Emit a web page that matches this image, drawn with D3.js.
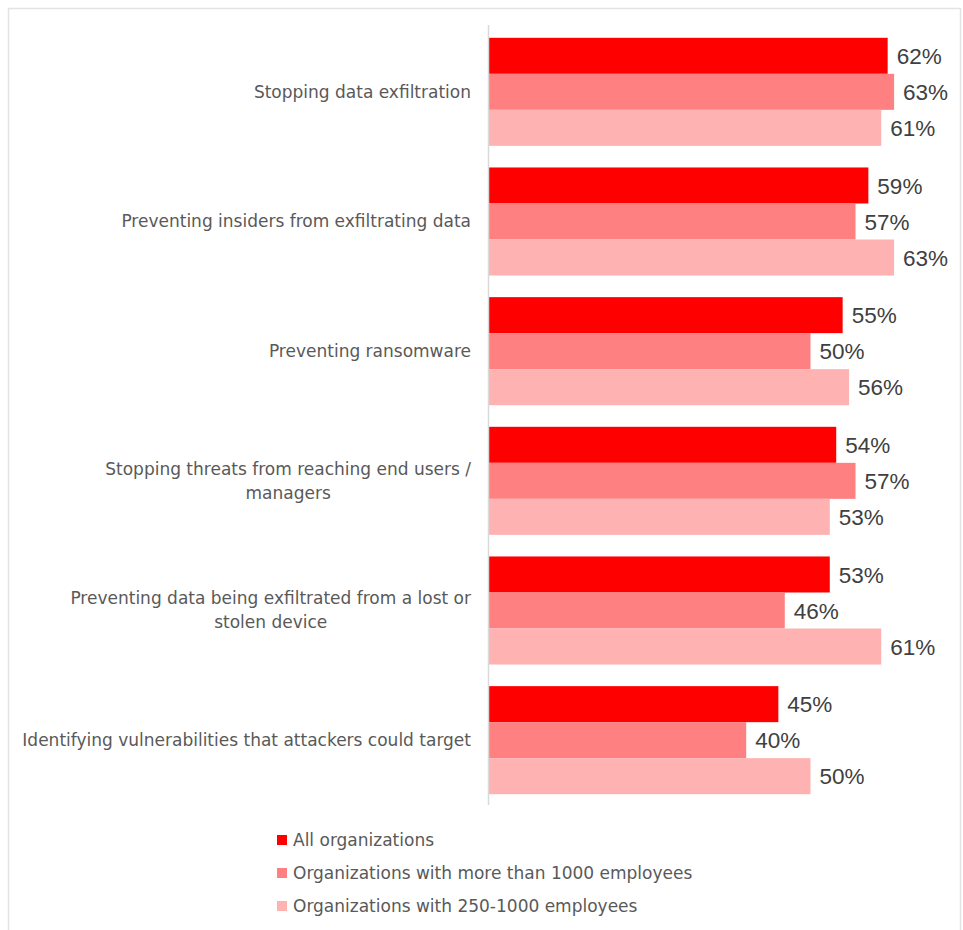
<!DOCTYPE html>
<html>
<head>
<meta charset="utf-8">
<script src="https://cdn.jsdelivr.net/npm/d3@7"></script>
<style>
  html, body { margin: 0; padding: 0; background: #fff; }
  svg { display: block; }
</style>
</head>
<body>
<svg id="chart" width="963" height="930"></svg>
<script>
// Categories (top to bottom) and the three survey segments
const categories = [
  ["Stopping data exfiltration"],
  ["Preventing insiders from exfiltrating data"],
  ["Preventing ransomware"],
  ["Stopping threats from reaching end users /", "managers"],
  ["Preventing data being exfiltrated from a lost or", "stolen device"],
  ["Identifying vulnerabilities that attackers could target"]
];
const seriesNames = [
  "All organizations",
  "Organizations with more than 1000 employees",
  "Organizations with 250-1000 employees"
];
const allOrgs   = [62, 59, 55, 54, 53, 45];
const over1000  = [63, 57, 50, 57, 46, 40];
const mid250    = [61, 63, 56, 53, 61, 50];
const seriesColors = ["#FF0000", "#FF8080", "#FFB2B2"];

const series = [allOrgs, over1000, mid250];

const svg = d3.select("#chart");
const textFont = "'DejaVu Sans', sans-serif";
const valueFont = "'Liberation Sans', Arial, sans-serif";

// outer frame
svg.append("rect")
  .attr("x", 8.5).attr("y", 8.5)
  .attr("width", 952).attr("height", 940)
  .attr("fill", "none").attr("stroke", "#e3e3e3").attr("stroke-width", 1.5);

const x = d3.scaleLinear().domain([0, 100]).range([489, 489 + 643]);
const y = d3.scaleBand().domain(d3.range(categories.length))
  .range([27, 805]).paddingInner(1 / 6).paddingOuter(1 / 12);
const ySub = d3.scaleBand().domain(d3.range(series.length)).range([0, y.bandwidth()]);

const groups = svg.append("g").selectAll("g")
  .data(categories.map((c, i) => i))
  .join("g")
  .attr("transform", i => `translate(0,${y(i)})`);

groups.selectAll("rect")
  .data(i => series.map((s, k) => ({ k, v: s[i] })))
  .join("rect")
  .attr("x", x(0))
  .attr("y", d => ySub(d.k))
  .attr("width", d => x(d.v) - x(0))
  .attr("height", ySub.bandwidth())
  .attr("fill", d => seriesColors[d.k]);

groups.selectAll("text.val")
  .data(i => series.map((s, k) => ({ k, v: s[i] })))
  .join("text")
  .attr("class", "val")
  .attr("x", d => x(d.v) + 9)
  .attr("y", d => ySub(d.k) + ySub.bandwidth() / 2)
  .attr("dy", "0.36em")
  .attr("font-family", valueFont)
  .attr("font-size", 22.5)
  .attr("fill", "#404040")
  .text(d => d.v + "%");

// vertical category axis line
svg.append("line")
  .attr("x1", x(0) - 0.5).attr("x2", x(0) - 0.5)
  .attr("y1", y.range()[0] - 2).attr("y2", y.range()[1])
  .attr("stroke", "#d9d9d9").attr("stroke-width", 1.5);

// category labels: block right-aligned, lines centred within the block
const lineH = 24;
const labelRight = 471;
categories.forEach((lines, i) => {
  const cy = y(i) + y.bandwidth() / 2;
  const t = svg.append("text")
    .attr("font-family", textFont)
    .attr("font-size", 17)
    .attr("fill", "#595959")
    .attr("text-anchor", "middle");
  const spans = lines.map((ln, j) => t.append("tspan")
    .attr("y", cy + (j - (lines.length - 1) / 2) * lineH)
    .attr("dy", "0.35em")
    .text(ln));
  const w = d3.max(spans, s => s.node().getComputedTextLength());
  spans.forEach(s => s.attr("x", labelRight - w / 2));
});

// legend
const legend = svg.append("g");
seriesNames.forEach((name, k) => {
  const ly = 840 + k * 33;
  legend.append("rect")
    .attr("x", 277).attr("y", ly - 5)
    .attr("width", 10).attr("height", 10)
    .attr("fill", seriesColors[k]);
  legend.append("text")
    .attr("x", 293).attr("y", ly)
    .attr("dy", "0.35em")
    .attr("font-family", textFont)
    .attr("font-size", 17)
    .attr("fill", "#595959")
    .text(name);
});
</script>
</body>
</html>
